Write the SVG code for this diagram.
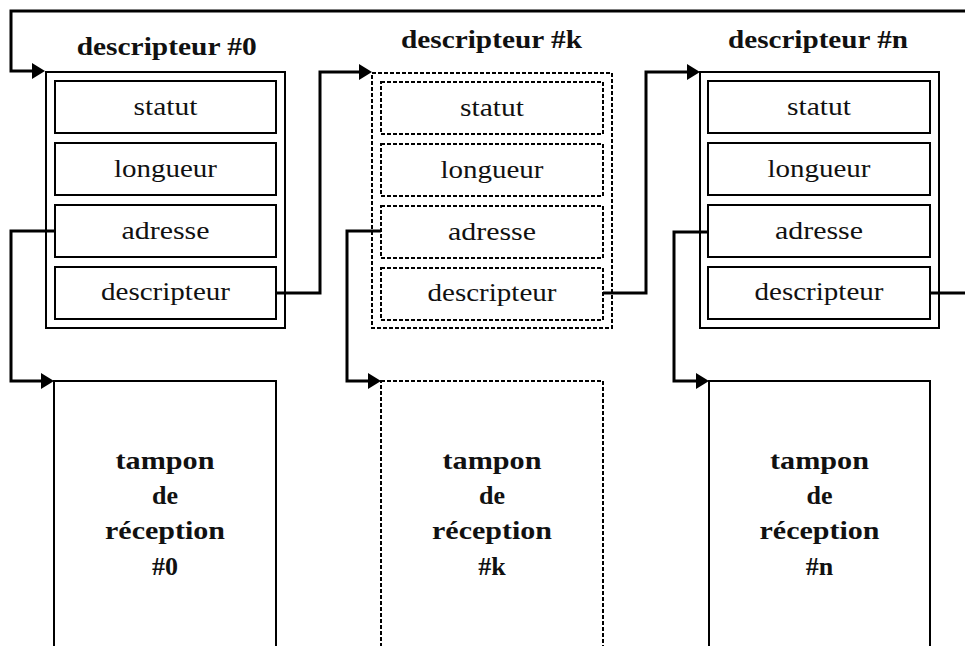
<svg xmlns="http://www.w3.org/2000/svg" width="965" height="646" viewBox="0 0 965 646">
  <style>
    .frame { fill: #fff; stroke: #000; stroke-width: 2; }
    .dash { stroke-dasharray: 4 2; }
    .field { font-family: "Liberation Serif", "DejaVu Serif", serif; font-size: 25px; text-anchor: middle; fill: #111; }
    .title { font-family: "Liberation Serif", "DejaVu Serif", serif; font-size: 26px; font-weight: bold; text-anchor: middle; fill: #111; }
    .buf { font-family: "Liberation Serif", "DejaVu Serif", serif; font-size: 26px; font-weight: bold; text-anchor: middle; fill: #111; }
    .link { fill: none; stroke: #000; stroke-width: 3; }
  </style>
  <defs>
    <marker id="head" markerUnits="userSpaceOnUse" markerWidth="14" markerHeight="16" refX="3" refY="8" orient="auto">
      <path d="M0,0 L13,8 L0,16 z" fill="#000"/>
    </marker>
  </defs>
  <rect width="965" height="646" fill="#fff"/>

  <!-- descriptor #0 -->
  <g id="desc0">
    <text class="title" x="166.7" y="55" textLength="180" lengthAdjust="spacingAndGlyphs">descripteur #0</text>
    <rect class="frame" x="46" y="72" width="239" height="256"/>
    <rect class="frame" x="55" y="81" width="221" height="52"/>
    <rect class="frame" x="55" y="143" width="221" height="52"/>
    <rect class="frame" x="55" y="205" width="221" height="52"/>
    <rect class="frame" x="55" y="267" width="221" height="52"/>
    <text class="field" x="165.5" y="115" textLength="64" lengthAdjust="spacingAndGlyphs">statut</text>
    <text class="field" x="165.5" y="177" textLength="103" lengthAdjust="spacingAndGlyphs">longueur</text>
    <text class="field" x="165.5" y="239" textLength="88" lengthAdjust="spacingAndGlyphs">adresse</text>
    <text class="field" x="165.5" y="300" textLength="129" lengthAdjust="spacingAndGlyphs">descripteur</text>
  </g>

  <!-- descriptor #k (dashed) -->
  <g id="desck">
    <text class="title" x="491.5" y="47.5" textLength="181" lengthAdjust="spacingAndGlyphs">descripteur #k</text>
    <rect class="frame dash" x="372" y="73" width="240" height="255"/>
    <rect class="frame dash" x="381" y="82" width="222" height="52"/>
    <rect class="frame dash" x="381" y="144" width="222" height="52"/>
    <rect class="frame dash" x="381" y="206" width="222" height="52"/>
    <rect class="frame dash" x="381" y="268" width="222" height="52"/>
    <text class="field" x="492" y="116" textLength="64" lengthAdjust="spacingAndGlyphs">statut</text>
    <text class="field" x="492" y="178" textLength="103" lengthAdjust="spacingAndGlyphs">longueur</text>
    <text class="field" x="492" y="240" textLength="88" lengthAdjust="spacingAndGlyphs">adresse</text>
    <text class="field" x="492" y="301" textLength="129" lengthAdjust="spacingAndGlyphs">descripteur</text>
  </g>

  <!-- descriptor #n -->
  <g id="descn">
    <text class="title" x="818" y="47.5" textLength="180" lengthAdjust="spacingAndGlyphs">descripteur #n</text>
    <rect class="frame" x="700" y="72" width="239" height="256"/>
    <rect class="frame" x="708" y="81" width="222" height="52"/>
    <rect class="frame" x="708" y="143" width="222" height="52"/>
    <rect class="frame" x="708" y="205" width="222" height="52"/>
    <rect class="frame" x="708" y="267" width="222" height="52"/>
    <text class="field" x="819" y="115" textLength="64" lengthAdjust="spacingAndGlyphs">statut</text>
    <text class="field" x="819" y="177" textLength="103" lengthAdjust="spacingAndGlyphs">longueur</text>
    <text class="field" x="819" y="239" textLength="88" lengthAdjust="spacingAndGlyphs">adresse</text>
    <text class="field" x="819" y="300" textLength="129" lengthAdjust="spacingAndGlyphs">descripteur</text>
  </g>

  <!-- receive buffers -->
  <g id="buf0">
    <rect class="frame" x="54" y="381" width="222" height="280"/>
    <text class="buf" x="165" y="469" textLength="99" lengthAdjust="spacingAndGlyphs">tampon</text>
    <text class="buf" x="165" y="504">de</text>
    <text class="buf" x="165" y="539" textLength="120" lengthAdjust="spacingAndGlyphs">réception</text>
    <text class="buf" x="165" y="575">#0</text>
  </g>
  <g id="bufk">
    <rect class="frame dash" x="381" y="381" width="222" height="280"/>
    <text class="buf" x="492" y="469" textLength="99" lengthAdjust="spacingAndGlyphs">tampon</text>
    <text class="buf" x="492" y="504">de</text>
    <text class="buf" x="492" y="539" textLength="120" lengthAdjust="spacingAndGlyphs">réception</text>
    <text class="buf" x="492" y="575">#k</text>
  </g>
  <g id="bufn">
    <rect class="frame" x="709" y="381" width="221" height="280"/>
    <text class="buf" x="819.5" y="469" textLength="99" lengthAdjust="spacingAndGlyphs">tampon</text>
    <text class="buf" x="819.5" y="504">de</text>
    <text class="buf" x="819.5" y="539" textLength="120" lengthAdjust="spacingAndGlyphs">réception</text>
    <text class="buf" x="819.5" y="575">#n</text>
  </g>

  <!-- connectors -->
  <g id="links">
    <path class="link" d="M966,11 H11 V71 H35" marker-end="url(#head)"/>
    <path class="link" d="M276,293 H320 V72 H362" marker-end="url(#head)"/>
    <path class="link" d="M55,231 H11 V381 H44" marker-end="url(#head)"/>
    <path class="link" d="M381,231 H347 V381 H371" marker-end="url(#head)"/>
    <path class="link" d="M603,293 H646 V72 H690" marker-end="url(#head)"/>
    <path class="link" d="M708,232 H674 V381 H699" marker-end="url(#head)"/>
    <path class="link" d="M930,293 H966"/>
  </g>
</svg>
